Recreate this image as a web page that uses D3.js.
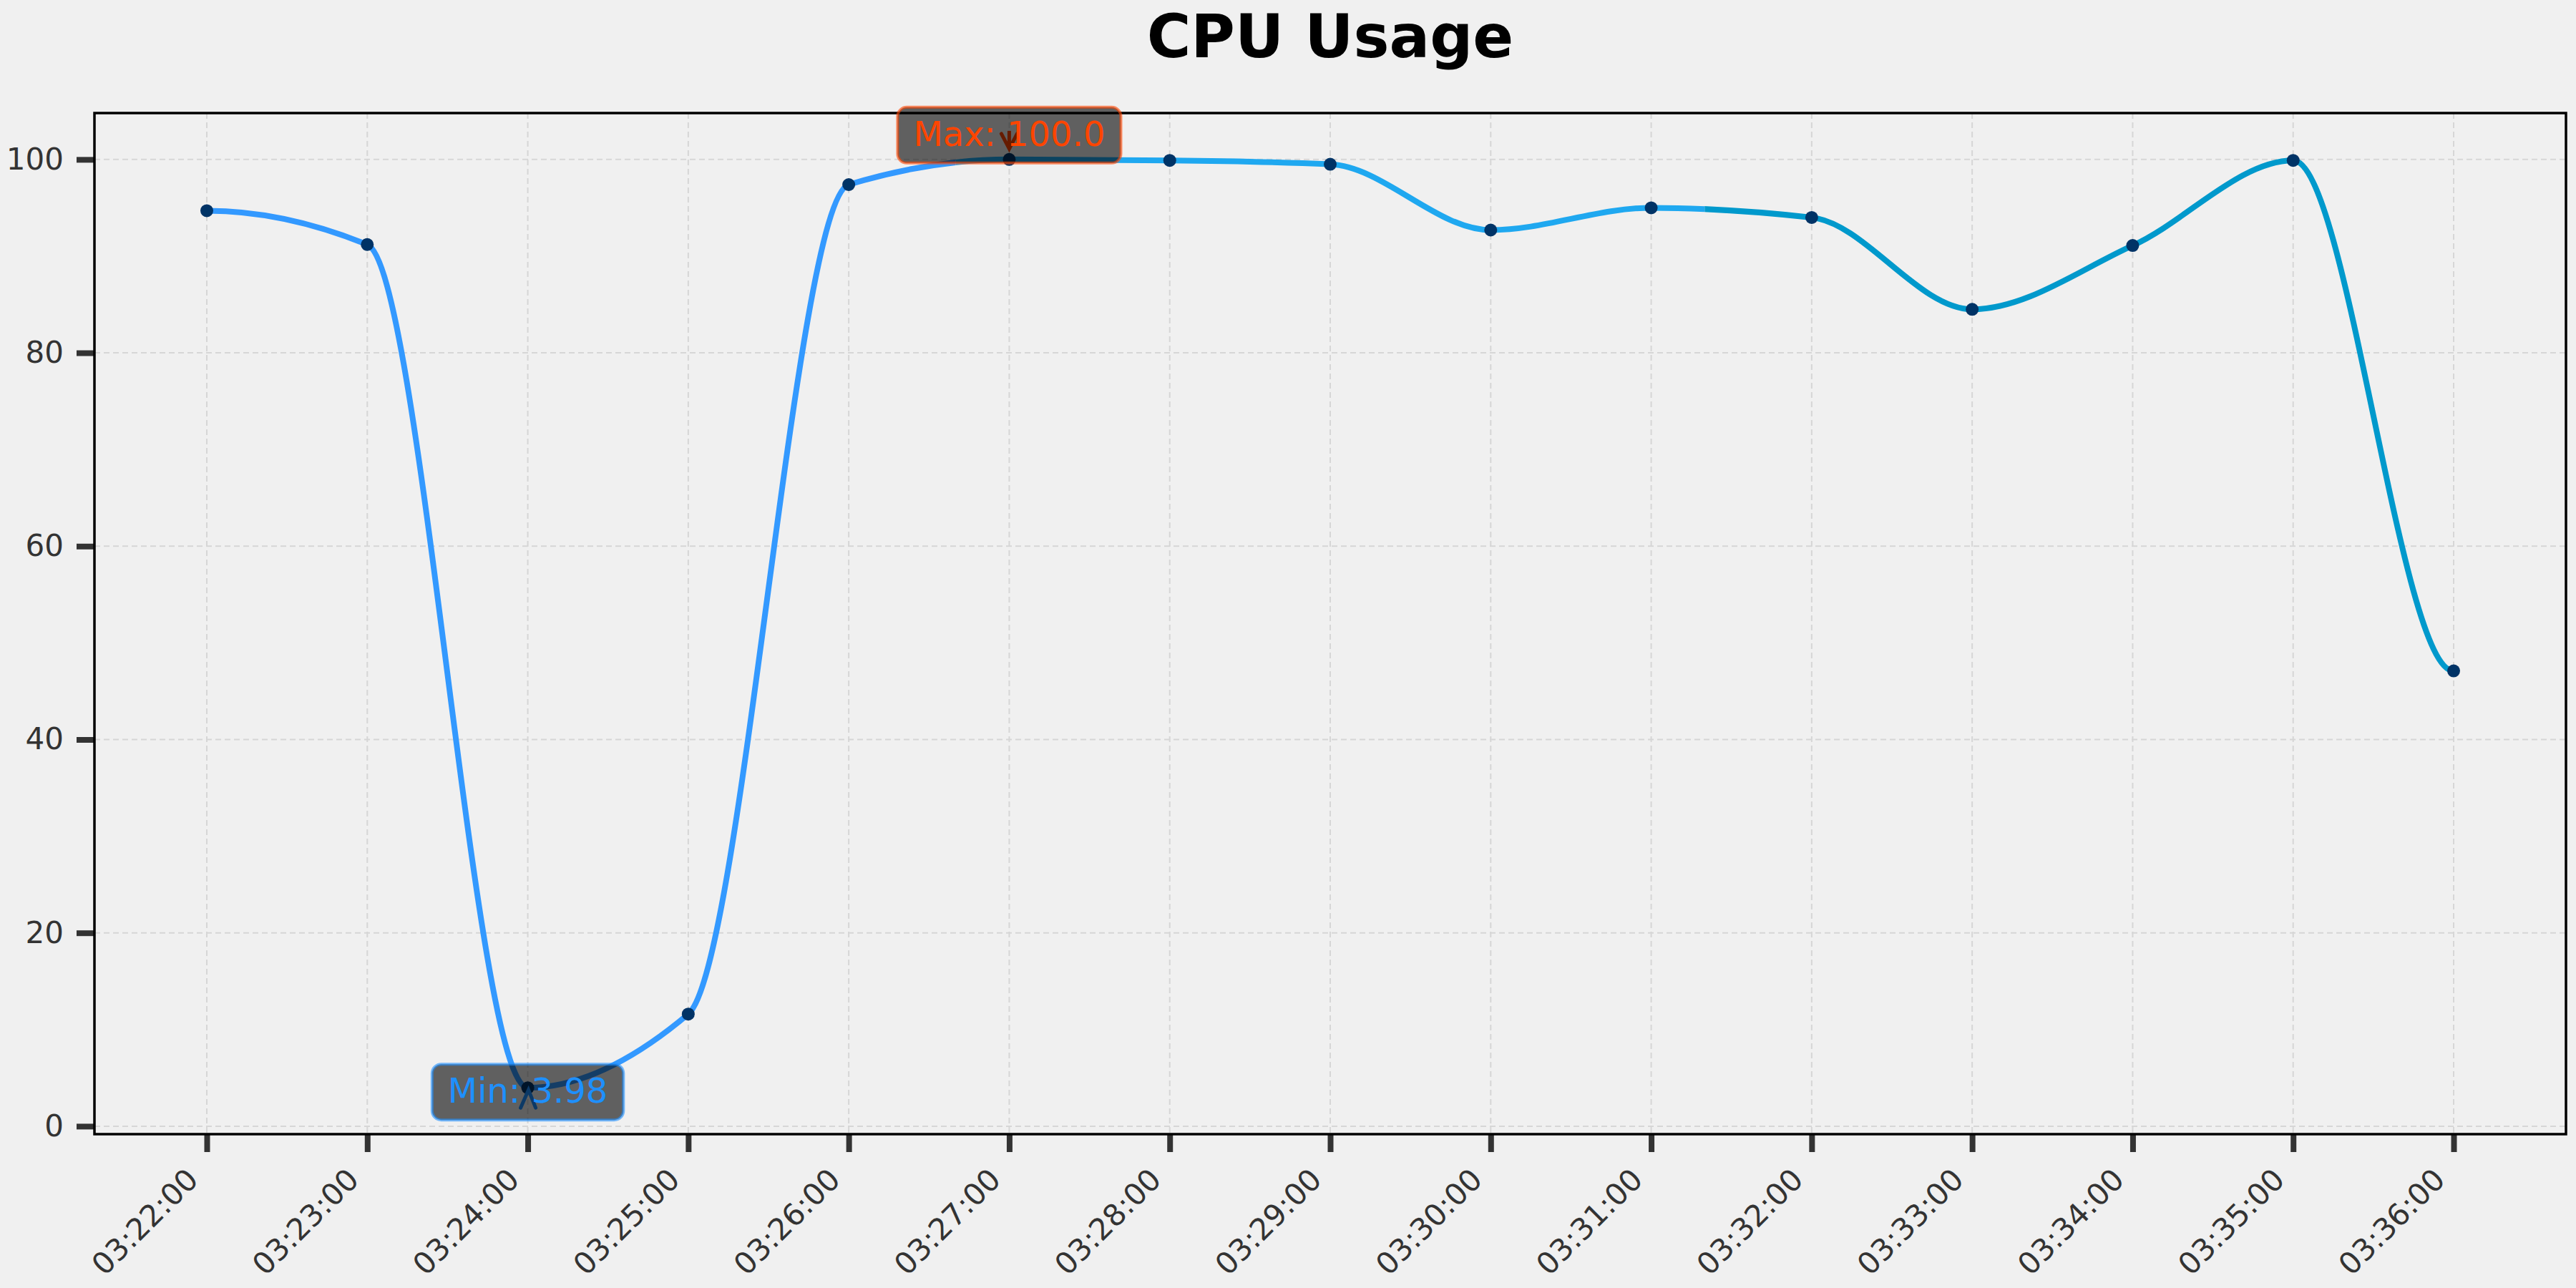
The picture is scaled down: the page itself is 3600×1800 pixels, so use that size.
<!DOCTYPE html>
<html>
<head>
<meta charset="utf-8">
<script src="https://cdn.jsdelivr.net/npm/d3@7"></script>
<style>
  html, body { margin: 0; padding: 0; background: #f0f0f0; }
  svg { display: block; }
  text { font-family: "DejaVu Sans", sans-serif; }
</style>
</head>
<body>
<script>
// ---- data ----
const times = ["03:22:00","03:23:00","03:24:00","03:25:00","03:26:00","03:27:00","03:28:00",
               "03:29:00","03:30:00","03:31:00","03:32:00","03:33:00","03:34:00","03:35:00","03:36:00"];
const cpu = [94.7, 91.2, 3.98, 11.6, 97.4, 100.0, 99.9, 99.5, 92.7, 95.0, 94.0, 84.5, 91.1, 99.9, 47.1];
const yTicks = [0, 20, 40, 60, 80, 100];
const segmentColors = ["#3399ff", "#1fa8f0", "#0099cc"];
const chartTitle = "CPU Usage";

// ---- layout ----
const W = 3600, H = 1800;
const L = 132, R = 3586, T = 158, B = 1585;

const parse = d3.timeParse("%H:%M:%S");
const dates = times.map(parse);
const pts = dates.map((d, i) => ({ t: d, v: cpu[i] }));

const t0 = dates[0], t1 = dates[dates.length - 1];
const span = t1 - t0;
const x = d3.scaleTime()
  .domain([new Date(+t0 - span * 0.05), new Date(+t1 + span * 0.05)])
  .range([L, R]);
const yMin = d3.min(cpu), yMax = d3.max(cpu);
const yr = yMax - yMin;
const y = d3.scaleLinear().domain([yMin - yr * 0.05, yMax + yr * 0.05]).range([B, T]);

// monotone (PCHIP-style) cubic curve with flat end tangents, as a d3 curve factory
function MonoFlat(context) { this._context = context; }
MonoFlat.prototype = {
  areaStart() { this._line = 0; }, areaEnd() { this._line = NaN; },
  lineStart() { this._xs = []; this._ys = []; },
  point(px, py) { this._xs.push(+px); this._ys.push(+py); },
  lineEnd() {
    const xs = this._xs, ys = this._ys, n = xs.length, c = this._context;
    if (!n) return;
    c.moveTo(xs[0], ys[0]);
    if (n === 1) return;
    const h = [], s = [];
    for (let i = 0; i < n - 1; i++) { h.push(xs[i + 1] - xs[i]); s.push((ys[i + 1] - ys[i]) / h[i]); }
    const m = new Array(n).fill(0);
    for (let i = 1; i < n - 1; i++) {
      if (s[i - 1] * s[i] > 0) {
        const w1 = 2 * h[i] + h[i - 1], w2 = h[i] + 2 * h[i - 1];
        m[i] = (w1 + w2) / (w1 / s[i - 1] + w2 / s[i]);
      }
    }
    for (let i = 0; i < n - 1; i++) {
      const hh = h[i] / 3;
      c.bezierCurveTo(xs[i] + hh, ys[i] + m[i] * hh, xs[i + 1] - hh, ys[i + 1] - m[i + 1] * hh, xs[i + 1], ys[i + 1]);
    }
  }
};
const curveMonoFlat = ctx => new MonoFlat(ctx);

const svg = d3.select("body").append("svg").attr("width", W).attr("height", H);
svg.append("rect").attr("width", W).attr("height", H).attr("fill", "#f0f0f0");

const defs = svg.append("defs");
defs.append("clipPath").attr("id", "plotclip")
  .append("rect").attr("x", L).attr("y", T).attr("width", R - L).attr("height", B - T);

// grid
const grid = svg.append("g");
grid.selectAll(".vg").data(dates).join("line")
  .attr("x1", d => x(d)).attr("x2", d => x(d)).attr("y1", T).attr("y2", B)
  .attr("stroke", "#d6d6d6").attr("stroke-width", 2).attr("stroke-dasharray", "8,5");
grid.selectAll(".hg").data(yTicks).join("line")
  .attr("x1", L).attr("x2", R).attr("y1", d => y(d)).attr("y2", d => y(d))
  .attr("stroke", "#d6d6d6").attr("stroke-width", 2).attr("stroke-dasharray", "8,5");

// segmented colored line
const line = d3.line().x(d => x(d.t)).y(d => y(d.v)).curve(curveMonoFlat);
const nSeg = segmentColors.length;
segmentColors.forEach((c, k) => {
  const a = x(new Date(+t0 + span * k / nSeg));
  const b = x(new Date(+t0 + span * (k + 1) / nSeg));
  const xa = k === 0 ? L : a, xb = k === nSeg - 1 ? R : b;
  defs.append("clipPath").attr("id", "seg" + k)
    .append("rect").attr("x", xa).attr("y", T).attr("width", xb - xa).attr("height", B - T);
  svg.append("g").attr("clip-path", "url(#plotclip)")
    .append("path").datum(pts)
    .attr("clip-path", "url(#seg" + k + ")")
    .attr("d", line).attr("fill", "none").attr("stroke", c)
    .attr("stroke-width", 8).attr("stroke-linecap", "butt").attr("stroke-linejoin", "round");
});

// markers
svg.append("g").selectAll("circle").data(pts).join("circle")
  .attr("cx", d => x(d.t)).attr("cy", d => y(d.v)).attr("r", 9).attr("fill", "#003366");

// axes
const xAxis = d3.axisBottom(x).tickValues(dates).tickFormat(d3.timeFormat("%H:%M:%S"))
  .tickSize(25).tickSizeOuter(0);
const gx = svg.append("g").attr("transform", `translate(0,${B})`).call(xAxis);
gx.select(".domain").remove();
gx.selectAll(".tick line").attr("stroke", "#333").attr("stroke-width", 8);
gx.selectAll(".tick text")
  .attr("x", 0).attr("y", 0).attr("dy", 0)
  .attr("transform", "translate(-10,66) rotate(-45)")
  .attr("text-anchor", "end")
  .attr("fill", "#333").style("font-size", "42px").style("font-family", "DejaVu Sans");

const yAxis = d3.axisLeft(y).tickValues(yTicks).tickSize(25).tickPadding(18).tickSizeOuter(0);
const gy = svg.append("g").attr("transform", `translate(${L},0)`).call(yAxis);
gy.select(".domain").remove();
gy.selectAll(".tick line").attr("stroke", "#333").attr("stroke-width", 8);
gy.selectAll(".tick text").attr("fill", "#333").style("font-size", "42px").style("font-family", "DejaVu Sans");

// frame
svg.append("rect").attr("x", L).attr("y", T).attr("width", R - L).attr("height", B - T)
  .attr("fill", "none").attr("stroke", "#000").attr("stroke-width", 3.5);

// annotations
const iMax = d3.maxIndex(cpu), iMin = d3.minIndex(cpu);
const ann = [
  { i: iMax, label: "Max: " + cpu[iMax].toFixed(1), color: "#ff4500", dy: -34,
    arrow: [[-11, -36], [0, -15], [11, -36]], shaft: [[0, -40], [0, -15]] },
  { i: iMin, label: "Min: " + cpu[iMin], color: "#1e90ff", dy: 6,
    arrow: [[-10, 28], [1, 3], [11, 28]], shaft: null }
];
ann.forEach(a => {
  const px = x(dates[a.i]), py = y(cpu[a.i]);
  const g = svg.append("g");
  g.append("path").attr("d", d3.line()(a.arrow.map(p => [px + p[0], py + p[1]])))
    .attr("fill", "none").attr("stroke", a.color).attr("stroke-width", 5)
    .attr("stroke-linejoin", "miter").attr("stroke-linecap", "round");
  if (a.shaft) {
    g.append("path").attr("d", d3.line()(a.shaft.map(p => [px + p[0], py + p[1]])))
      .attr("stroke", a.color).attr("stroke-width", 5);
  }
  const cy = py + a.dy;
  const txt = g.append("text").attr("x", px).attr("y", cy + 15)
    .attr("text-anchor", "middle").attr("fill", a.color)
    .style("font-size", "48px").text(a.label);
  const tw = txt.node().getComputedTextLength();
  const bw = tw + 44, bh = 78;
  g.insert("rect", "text")
    .attr("x", px - bw / 2).attr("y", cy - bh / 2).attr("width", bw).attr("height", bh)
    .attr("rx", 13).attr("ry", 13)
    .attr("fill", "#000").attr("fill-opacity", 0.6)
    .attr("stroke", a.color).attr("stroke-opacity", 0.6).attr("stroke-width", 4);
});

// title
svg.append("text").attr("x", (L + R) / 2).attr("y", 80).attr("text-anchor", "middle")
  .style("font-size", "84px").style("font-weight", "bold").attr("fill", "#000").text(chartTitle);
</script>
</body>
</html>
